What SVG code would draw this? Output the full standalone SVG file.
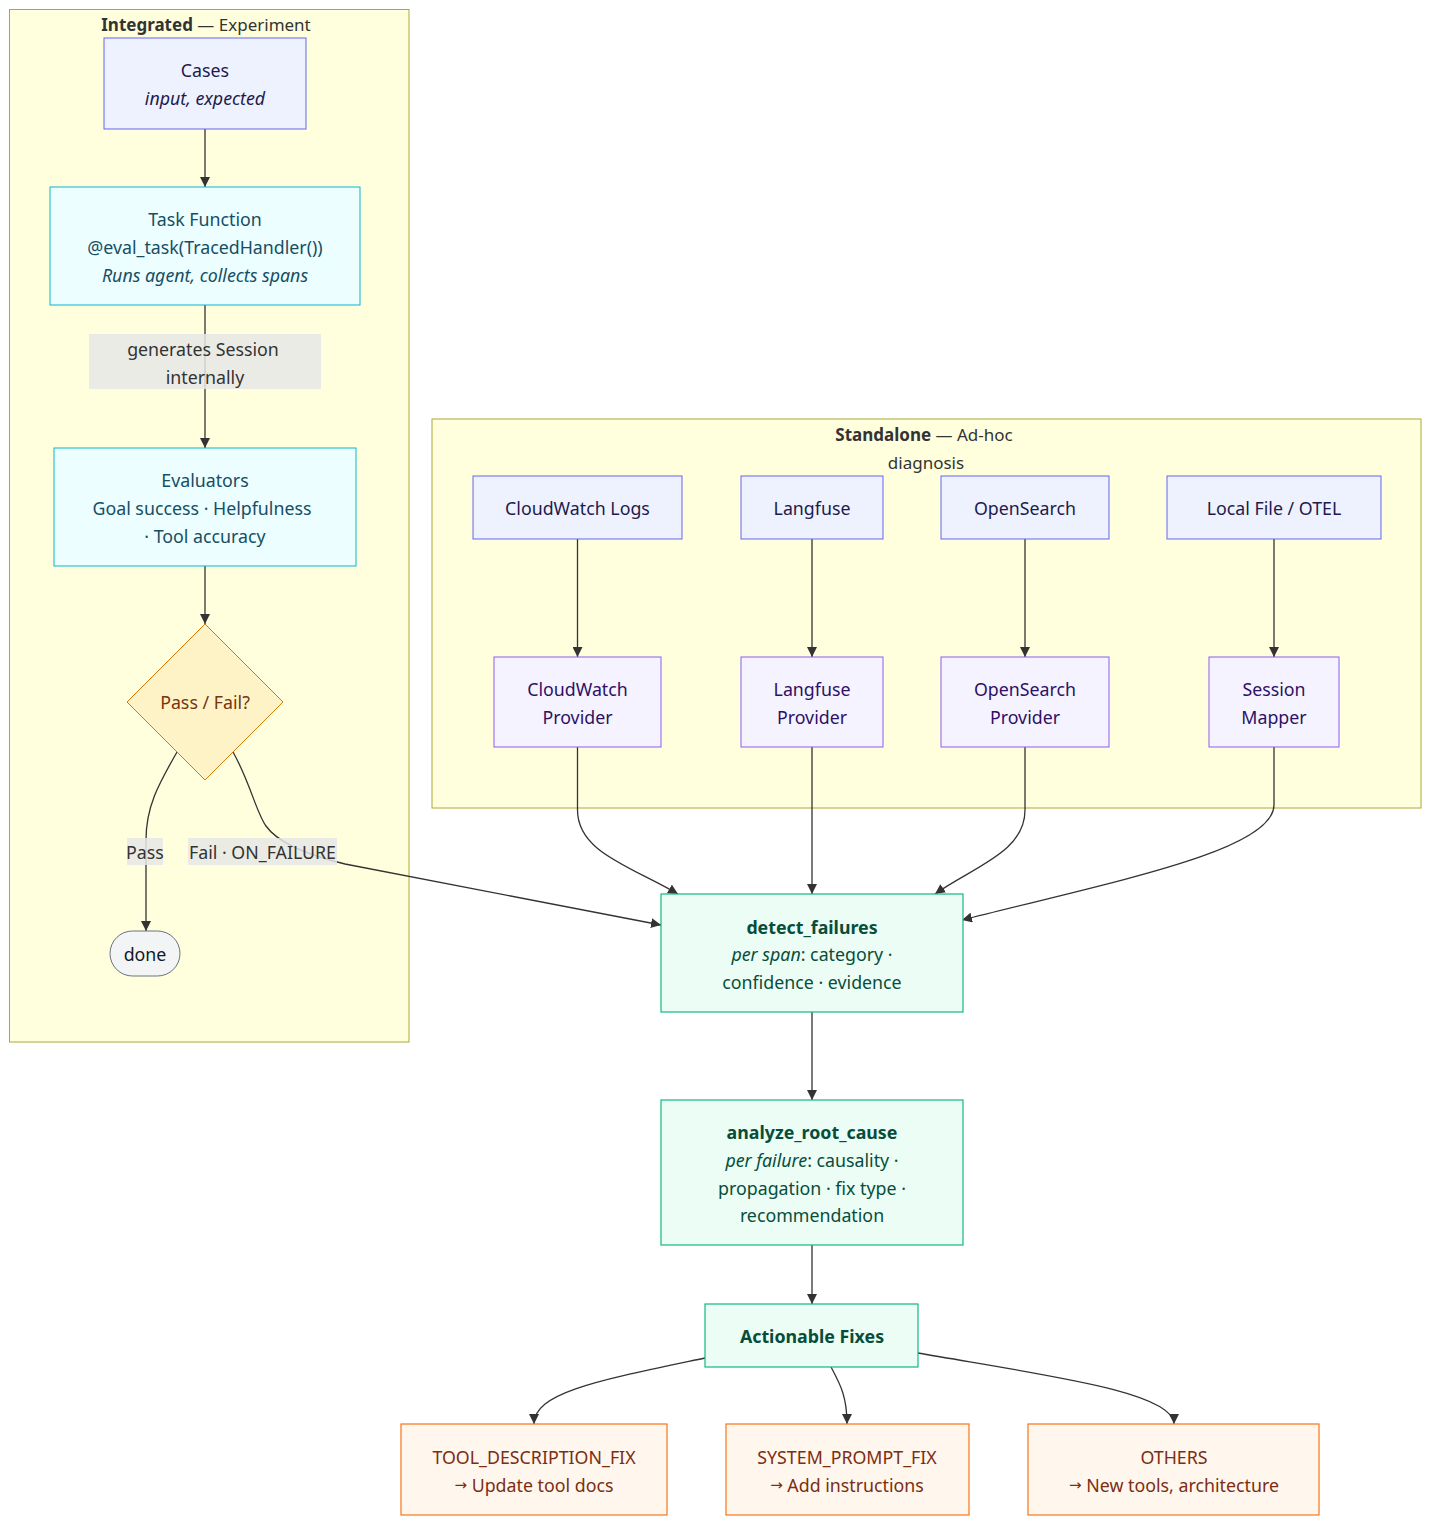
<svg xmlns="http://www.w3.org/2000/svg" width="1431" height="1525" viewBox="0 0 1431 1525">
<defs>
<marker id="arrow" viewBox="0 0 10 10" refX="10" refY="5" markerWidth="10" markerHeight="10" markerUnits="userSpaceOnUse" orient="auto">
<path d="M0,0 L10,5 L0,10 z" fill="#333333"/>
</marker>
</defs>
<style>
text{font-family:"Noto Sans","Open Sans",sans-serif;font-size:17.8px;text-anchor:middle;dominant-baseline:central}
.cluster{fill:#FFFFDE;stroke:#AAAA33;stroke-width:1}
.ctitle{fill:#333333;font-size:17px}
.b{font-weight:bold}
.i{font-style:italic}
.ar{font-family:"DejaVu Sans",sans-serif;font-size:15px}
.src rect{fill:#EEF2FF;stroke:#6366F1;stroke-width:1}
.src text{fill:#1E1B4B}
.task rect{fill:#ECFEFF;stroke:#06B6D4;stroke-width:1}
.task text{fill:#164E63}
.prov rect{fill:#F5F3FF;stroke:#8B5CF6;stroke-width:1}
.prov text{fill:#2E1065}
.dec polygon{fill:#FEF3C7;stroke:#D97706;stroke-width:1}
.dec text{fill:#78350F}
.core rect{fill:#ECFDF5;stroke:#10B981;stroke-width:1.2}
.core text{fill:#064E3B}
.fix rect{fill:#FFF7ED;stroke:#F97316;stroke-width:1.2}
.fix text{fill:#7C2D12}
.term rect{fill:#F3F4F6;stroke:#6B7280;stroke-width:1}
.term text{fill:#111827}
.edge{fill:none;stroke:#333333;stroke-width:1.3;marker-end:url(#arrow)}
.lbl rect{fill:#E8E8E8;opacity:0.85}
.lbl text{fill:#333333}
</style>

<g id="cluster-integrated">
<rect class="cluster" x="9.5" y="9.5" width="399.5" height="1032.5"/>
<text class="ctitle" x="206" y="24"><tspan class="b">Integrated</tspan> — Experiment</text>
</g>
<g id="cluster-standalone">
<rect class="cluster" x="432" y="419" width="989" height="389"/>
<text class="ctitle" x="924" y="434"><tspan class="b">Standalone</tspan> — Ad-hoc</text>
<text class="ctitle" x="926" y="462">diagnosis</text>
</g>

<g id="connectors">
<path class="edge" d="M205,129 L205,187"/>
<path class="edge" d="M205,305 L205,448"/>
<path class="edge" d="M205,566 L205,624"/>
<path class="edge" d="M177,752 C160,782 146,805 146,840 L146,931"/>
<path class="edge" d="M233,752 C250,782 256,812 266,826 C280,846 320,858 345,864 L661,925"/>
<path class="edge" d="M577.5,539 L577.5,657"/>
<path class="edge" d="M812,539 L812,657"/>
<path class="edge" d="M1025,539 L1025,657"/>
<path class="edge" d="M1274,539 L1274,657"/>
<path class="edge" d="M577.5,747 L577.5,810 C577.5,852 630,866 678,894"/>
<path class="edge" d="M812,747 L812,894"/>
<path class="edge" d="M1025,747 L1025,810 C1025,852 975,866 935,894"/>
<path class="edge" d="M1274,747 L1274,805 C1274,850 1120,880 962,920"/>
<path class="edge" d="M812,1012 L812,1100"/>
<path class="edge" d="M812,1245 L812,1304"/>
<path class="edge" d="M705,1358 C600,1380 534,1392 534,1424"/>
<path class="edge" d="M831,1367 C840,1384 847,1396 847,1424"/>
<path class="edge" d="M918,1353 C1050,1376 1174,1392 1174,1424"/>
<g class="lbl">
<rect x="89" y="334" width="232" height="55"/>
<text x="203" y="349">generates Session</text>
<text x="205" y="377">internally</text>
<rect x="127" y="838" width="36" height="27"/>
<text x="145" y="852">Pass</text>
<rect x="188" y="838" width="149" height="27"/>
<text x="262.5" y="852">Fail · ON_FAILURE</text>
</g>
</g>

<g id="node-cases" class="src">
<rect x="104" y="38" width="202" height="91"/>
<text x="205" y="70">Cases</text>
<text class="i" x="205" y="98">input, expected</text>
</g>
<g id="node-task" class="task">
<rect x="50" y="187" width="310" height="118"/>
<text x="205" y="219">Task Function</text>
<text x="205" y="247">@eval_task(TracedHandler())</text>
<text class="i" x="205" y="275">Runs agent, collects spans</text>
</g>
<g id="node-evaluators" class="task">
<rect x="54" y="448" width="302" height="118"/>
<text x="205" y="480">Evaluators</text>
<text x="202" y="508">Goal success · Helpfulness</text>
<text x="205" y="536">· Tool accuracy</text>
</g>
<g id="node-decision" class="dec">
<polygon points="205,624 283,702 205,780 127,702"/>
<text x="205" y="702">Pass / Fail?</text>
</g>
<g id="node-done" class="term">
<rect x="110" y="931" width="70" height="45" rx="22.5" ry="22.5"/>
<text x="145" y="954">done</text>
</g>

<g id="node-cw-logs" class="src">
<rect x="473" y="476" width="209" height="63"/>
<text x="577.5" y="508">CloudWatch Logs</text>
</g>
<g id="node-langfuse" class="src">
<rect x="741" y="476" width="142" height="63"/>
<text x="812" y="508">Langfuse</text>
</g>
<g id="node-opensearch" class="src">
<rect x="941" y="476" width="168" height="63"/>
<text x="1025" y="508">OpenSearch</text>
</g>
<g id="node-localfile" class="src">
<rect x="1167" y="476" width="214" height="63"/>
<text x="1274" y="508">Local File / OTEL</text>
</g>

<g id="node-cw-provider" class="prov">
<rect x="494" y="657" width="167" height="90"/>
<text x="577.5" y="689">CloudWatch</text>
<text x="577.5" y="717">Provider</text>
</g>
<g id="node-lf-provider" class="prov">
<rect x="741" y="657" width="142" height="90"/>
<text x="812" y="689">Langfuse</text>
<text x="812" y="717">Provider</text>
</g>
<g id="node-os-provider" class="prov">
<rect x="941" y="657" width="168" height="90"/>
<text x="1025" y="689">OpenSearch</text>
<text x="1025" y="717">Provider</text>
</g>
<g id="node-session-mapper" class="prov">
<rect x="1209" y="657" width="130" height="90"/>
<text x="1274" y="689">Session</text>
<text x="1274" y="717">Mapper</text>
</g>

<g id="node-detect" class="core">
<rect x="661" y="894" width="302" height="118"/>
<text class="b" x="812" y="927">detect_failures</text>
<text x="812" y="954"><tspan class="i">per span</tspan>: category ·</text>
<text x="812" y="982">confidence · evidence</text>
</g>
<g id="node-analyze" class="core">
<rect x="661" y="1100" width="302" height="145"/>
<text class="b" x="812" y="1132">analyze_root_cause</text>
<text x="812" y="1160"><tspan class="i">per failure</tspan>: causality ·</text>
<text x="812" y="1188">propagation · fix type ·</text>
<text x="812" y="1215">recommendation</text>
</g>
<g id="node-actionable" class="core">
<rect x="705" y="1304" width="213" height="63"/>
<text class="b" x="812" y="1336">Actionable Fixes</text>
</g>

<g id="node-tool-fix" class="fix">
<rect x="401" y="1424" width="266" height="91"/>
<text x="534" y="1457">TOOL_DESCRIPTION_FIX</text>
<text x="534" y="1485"><tspan class="ar">→</tspan> Update tool docs</text>
</g>
<g id="node-prompt-fix" class="fix">
<rect x="726" y="1424" width="243" height="91"/>
<text x="847" y="1457">SYSTEM_PROMPT_FIX</text>
<text x="847" y="1485"><tspan class="ar">→</tspan> Add instructions</text>
</g>
<g id="node-others" class="fix">
<rect x="1028" y="1424" width="291" height="91"/>
<text x="1174" y="1457">OTHERS</text>
<text x="1174" y="1485"><tspan class="ar">→</tspan> New tools, architecture</text>
</g>
</svg>
